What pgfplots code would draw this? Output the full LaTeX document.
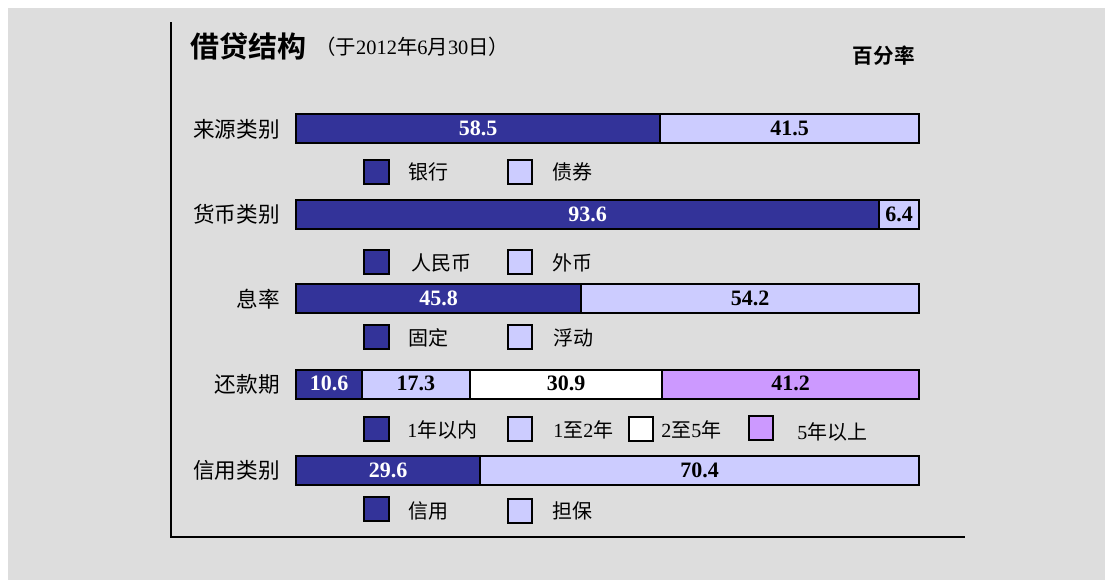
\documentclass[border=0pt]{standalone}
\usepackage{pgfplots}
\pgfplotsset{compat=1.18}
\usepackage{fontspec}
\setmainfont{Liberation Serif}
\newfontfamily\cjk{Noto Sans CJK SC}[BoldFont={Noto Sans CJK SC Bold}]
\newcommand{\zh}[1]{{\cjk #1}}
\definecolor{cA}{HTML}{333399}
\definecolor{cB}{HTML}{CCCCFF}
\definecolor{cD}{HTML}{CC99FF}
\definecolor{bg}{HTML}{DDDDDD}
\pgfplotsset{
  geom/.style={at={(148pt,-11pt)}, anchor=north west, scale only axis,
    width=311.5pt, height=257.5pt, xmin=0, xmax=100, ymin=22, ymax=537,
    y dir=reverse, hide axis, clip=false},
  barsty/.style={draw=black, line width=1pt},
}
\begin{document}
\begin{tikzpicture}[x=0.5pt,y=-0.5pt]
\useasboundingbox (0,0) rectangle (1105,580);
\fill[white] (0,0) rectangle (1105,580);
\fill[bg] (8,8) rectangle (1105,580);
\draw[line width=1pt] (171,22) -- (171,537) -- (965,537);

% title
\node[anchor=west, inner sep=0pt] at (190,46) {\cjk\bfseries\fontsize{14.5}{16}\selectfont 借贷结构};
\node[anchor=west, inner sep=0pt] at (315,47) {\fontsize{10.2}{12}\selectfont\zh{（于}2012\zh{年}6\zh{月}30\zh{日）}};
\node[anchor=east, inner sep=0pt] at (915,56) {\cjk\bfseries\fontsize{10.3}{12}\selectfont 百分率};

% category labels
\begin{scope}[every node/.style={anchor=east, inner sep=0pt, font=\cjk\fontsize{10.8}{12}\selectfont}]
\node at (280,129) {来源类别};
\node at (280,214) {货币类别};
\node at (280,299) {息率};
\node at (280,384) {还款期};
\node at (280,470) {信用类别};
\end{scope}

\begin{axis}[geom, xbar stacked, bar width=14.5pt]
\addplot[barsty, fill=cA] coordinates {(58.5,128.5) (93.6,214.5) (45.8,298.5) (10.6,384) (29.6,470)};
\addplot[barsty, fill=cB] coordinates {(41.5,128.5) (6.4,214.5) (54.2,298.5) (17.3,384) (70.4,470)};
\addplot[barsty, fill=white] coordinates {(0,128.5) (0,214.5) (0,298.5) (30.9,384) (0,470)};
\addplot[barsty, fill=cD] coordinates {(0,128.5) (0,214.5) (0,298.5) (41.2,384) (0,470)};
\end{axis}

\begin{axis}[geom]
\addplot[draw=none, mark=none, nodes near coords, point meta=explicit symbolic,
  every node near coord/.append style={anchor=center, inner sep=0pt, font=\bfseries\fontsize{11}{13}\selectfont, text=white}]
  coordinates {(29.25,128)[58.5] (46.8,214)[93.6] (22.9,298)[45.8] (5.3,383)[10.6] (14.8,470)[29.6]};
\addplot[draw=none, mark=none, nodes near coords, point meta=explicit symbolic,
  every node near coord/.append style={anchor=center, inner sep=0pt, font=\bfseries\fontsize{11}{13}\selectfont, text=black}]
  coordinates {(79.25,128)[41.5] (96.8,214)[6.4] (72.9,298)[54.2] (19.25,383)[17.3] (43.35,383)[30.9] (79.4,383)[41.2] (64.8,470)[70.4]};
\end{axis}

% legends
\begin{scope}[every node/.style={anchor=west, inner sep=0pt, font=\fontsize{10}{12}\selectfont}]
\draw[fill=cA, line width=1pt] (364,160) rectangle (389,184);
\node at (408,172) {\zh{银行}};
\draw[fill=cB, line width=1pt] (508,160) rectangle (532,184);
\node at (552,172) {\zh{债券}};

\draw[fill=cA, line width=1pt] (364,250) rectangle (389,274);
\node at (411,263) {\zh{人民币}};
\draw[fill=cB, line width=1pt] (508,250) rectangle (532,274);
\node at (552,263) {\zh{外币}};

\draw[fill=cA, line width=1pt] (364,325) rectangle (389,349);
\node at (408,338) {\zh{固定}};
\draw[fill=cB, line width=1pt] (508,325) rectangle (532,349);
\node at (553,338) {\zh{浮动}};

\draw[fill=cA, line width=1pt] (364,417) rectangle (389,441);
\node at (407,430) {1\zh{年以内}};
\draw[fill=cB, line width=1pt] (508,417) rectangle (532,441);
\node at (553,430) {1\zh{至}2\zh{年}};
\draw[fill=white, line width=1pt] (629,417) rectangle (653,441);
\node at (661,430) {2\zh{至}5\zh{年}};
\draw[fill=cD, line width=1pt] (749,416) rectangle (773,440);
\node at (797,432) {5\zh{年以上}};

\draw[fill=cA, line width=1pt] (364,497) rectangle (389,521);
\node at (408,511) {\zh{信用}};
\draw[fill=cB, line width=1pt] (508,499) rectangle (532,523);
\node at (552,511) {\zh{担保}};
\end{scope}
\end{tikzpicture}
\end{document}
